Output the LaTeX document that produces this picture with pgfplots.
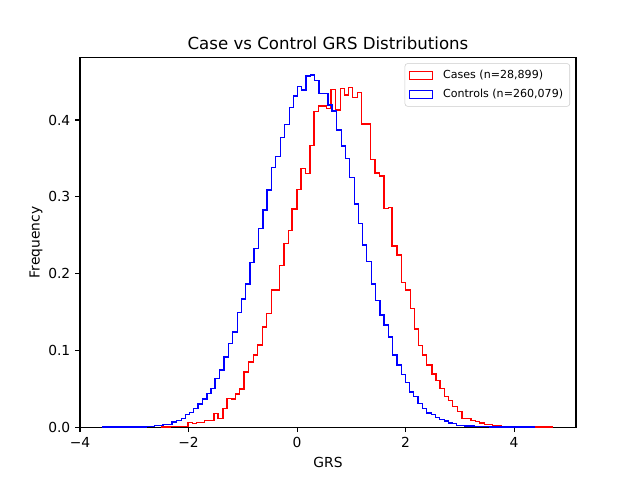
\documentclass[border=0pt]{standalone}
\usepackage{pgfplots}
\pgfplotsset{compat=1.18}
\usepackage{fontspec}
\setmainfont{DejaVu Sans}
\definecolor{legedge}{gray}{0.8}
\begin{document}
\begin{tikzpicture}
\path[use as bounding box] (-0.8in,-0.528in) rectangle (5.6in,4.272in);
\begin{axis}[
  scale only axis, width=4.96in, height=3.696in,
  at={(0,0)}, anchor=south west,
  xmin=-4, xmax=5.14, ymin=0, ymax=0.4813,
  axis line style={line width=0.8pt},
  every tick/.style={black, line width=0.8pt},
  tick align=outside, major tick length=3.5pt,
  xtick pos=bottom, ytick pos=left,
  xtick={-4,-2,0,2,4}, xticklabels={−4,−2,0,2,4},
  ytick={0,0.1,0.2,0.3,0.4}, yticklabels={0.0,0.1,0.2,0.3,0.4},
  ticklabel style={font=\fontsize{10}{12}\selectfont},
  title={Case vs Control GRS Distributions},
  title style={font=\fontsize{12}{14}\selectfont, at={(axis description cs:0.5,1)}, anchor=base, yshift=0pt, inner sep=0pt},
  xlabel={GRS}, ylabel={Frequency},
  every axis x label/.style={at={(axis description cs:0.5,0)}, anchor=north, yshift=-21.4pt, inner sep=0pt, font=\fontsize{10}{12}\selectfont},
  every axis y label/.style={at={(axis description cs:0,0.5)}, rotate=90, anchor=center, yshift=31.7pt, inner sep=0pt, font=\fontsize{10}{12}\selectfont},
  legend image code/.code={\draw[#1, sharp corners] (0pt,-2.8pt) rectangle (16.8pt,2.8pt);},
  legend cell align=left,
  legend style={at={(axis description cs:1,1)}, anchor=north east, xshift=-4.3pt, yshift=-4.1pt,
    draw=legedge, rounded corners=2pt, fill=white, fill opacity=0.8, text opacity=1,
    font=\fontsize{8}{9.6}\selectfont, inner sep=2.8pt, row sep=2.2pt,
    /tikz/every odd column/.append style={column sep=5pt}},
]
\addplot[const plot, red, line width=1pt, mark=none] coordinates {
(-2.501,0) (-2.501,0.0004) (-2.330,0.0013) (-2.011,0.0061) (-1.930,0.0052) (-1.856,0.0061)
(-1.703,0.0085) (-1.532,0.0178) (-1.459,0.0117) (-1.366,0.0244) (-1.293,0.0374) (-1.212,0.0365)
(-1.133,0.0430) (-1.059,0.0495) (-0.980,0.0717) (-0.893,0.0847) (-0.807,0.0938) (-0.727,0.1068)
(-0.641,0.1307) (-0.567,0.1481) (-0.475,0.1785) (-0.322,0.2102) (-0.243,0.2393) (-0.162,0.2558)
(-0.096,0.2840) (-0.004,0.3097) (0.070,0.3371) (0.151,0.3306) (0.239,0.3665) (0.313,0.4108)
(0.390,0.4182) (0.538,0.4153) (0.626,0.4400) (0.709,0.4130) (0.796,0.4413) (0.875,0.4326)
(0.948,0.4426) (1.022,0.4293) (1.109,0.4361) (1.188,0.3948) (1.354,0.3485) (1.436,0.3309)
(1.519,0.3270) (1.602,0.2847) (1.685,0.2857) (1.750,0.2362) (1.838,0.2241) (1.919,0.1883)
(1.998,0.1785) (2.085,0.1547) (2.164,0.1277) (2.243,0.1062) (2.317,0.0942) (2.390,0.0808)
(2.486,0.0693) (2.560,0.0608) (2.634,0.0504) (2.716,0.0401) (2.796,0.0348) (2.869,0.0270)
(2.956,0.0205) (3.039,0.0117) (3.204,0.0091) (3.287,0.0072) (3.361,0.0056) (3.453,0.0039)
(3.606,0.0026) (3.761,0.0013) (3.913,0.0004) (4.705,0.0004) (4.705,0)
};
\addlegendentry{Cases (n=28,899)}
\addplot[const plot, blue, line width=1pt, mark=none] coordinates {
(-3.582,0) (-3.582,0.0004) (-2.777,0.0013) (-2.624,0.0026) (-2.471,0.0039) (-2.306,0.0069)
(-2.225,0.0091) (-2.133,0.0113) (-2.053,0.0169) (-1.980,0.0192) (-1.906,0.0244) (-1.827,0.0300)
(-1.746,0.0365) (-1.661,0.0439) (-1.587,0.0504) (-1.514,0.0635) (-1.433,0.0743) (-1.348,0.0916)
(-1.267,0.1091) (-1.193,0.1242) (-1.101,0.1494) (-1.022,0.1668) (-0.948,0.1863) (-0.869,0.2141)
(-0.796,0.2328) (-0.715,0.2589) (-0.630,0.2827) (-0.556,0.3088) (-0.475,0.3384) (-0.396,0.3522)
(-0.309,0.3775) (-0.230,0.3944) (-0.144,0.4166) (-0.070,0.4313) (0.004,0.4434) (0.083,0.4391)
(0.162,0.4573) (0.243,0.4586) (0.322,0.4512) (0.401,0.4348) (0.567,0.4195) (0.641,0.4117)
(0.722,0.3870) (0.814,0.3661) (0.888,0.3501) (0.967,0.3253) (1.053,0.2906) (1.127,0.2654)
(1.201,0.2371) (1.285,0.2154) (1.366,0.1863) (1.440,0.1646) (1.525,0.1459) (1.599,0.1329)
(1.680,0.1177) (1.759,0.0938) (1.838,0.0808) (1.919,0.0684) (1.998,0.0586) (2.072,0.0460)
(2.151,0.0397) (2.232,0.0309) (2.317,0.0244) (2.390,0.0186) (2.477,0.0165) (2.551,0.0126)
(2.624,0.0104) (2.716,0.0082) (2.790,0.0056) (2.869,0.0048) (2.943,0.0026) (3.085,0.0017)
(3.269,0.0007) (3.545,0.0002) (4.37,0.0002) (4.37,0)
};
\addlegendentry{Controls (n=260,079)}
\end{axis}
\end{tikzpicture}
\end{document}
